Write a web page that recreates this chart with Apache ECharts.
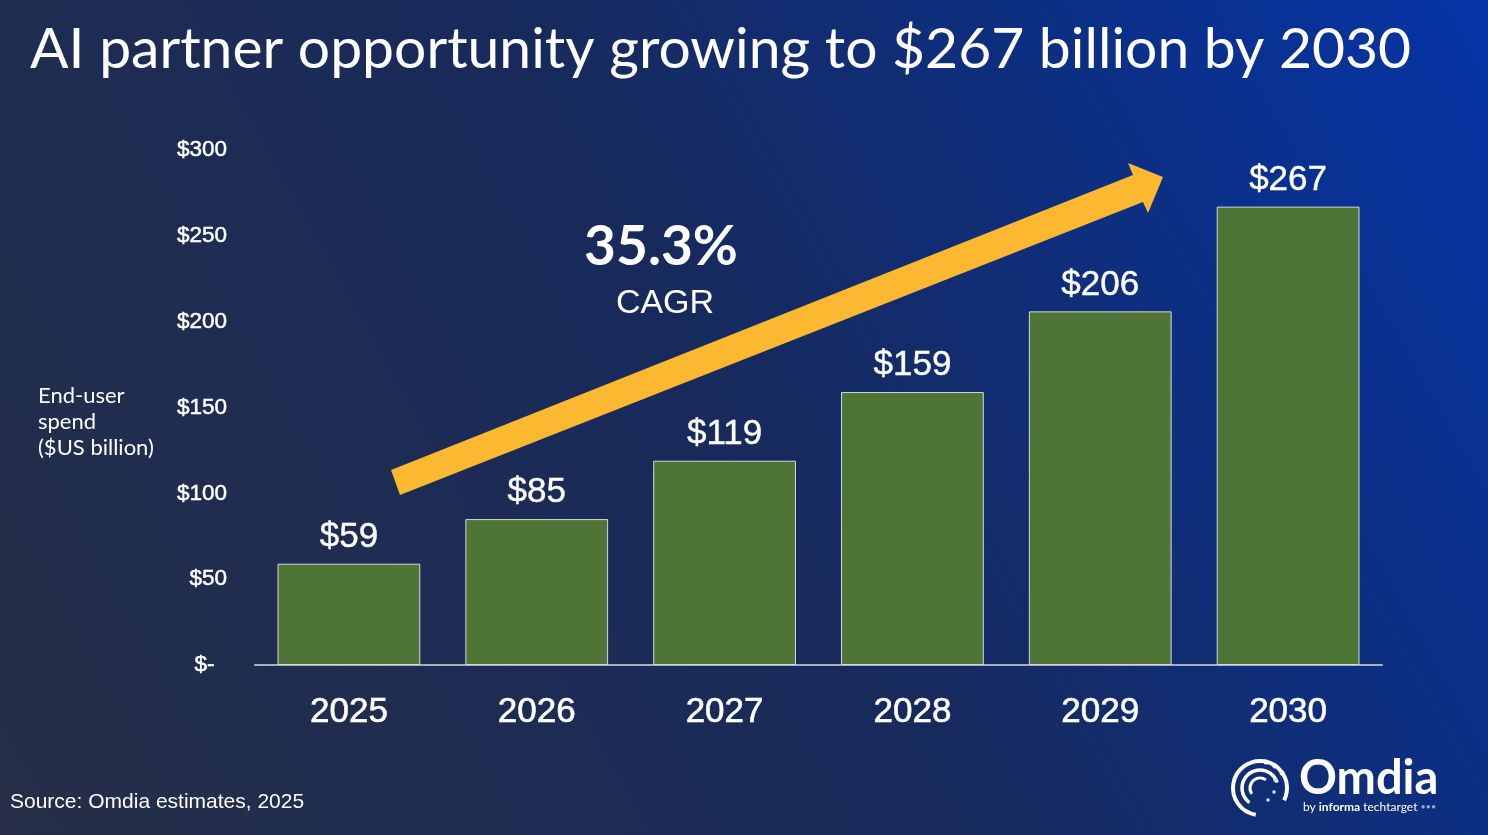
<!DOCTYPE html>
<html>
<head>
<meta charset="utf-8">
<title>AI partner opportunity</title>
<script src="https://cdn.jsdelivr.net/npm/echarts@6/dist/echarts.min.js"></script>
<style>
  html, body { margin: 0; padding: 0; }
  #main { width: 1488px; height: 835px; }
</style>
</head>
<body>
<div id="main"></div>
<script>
// chart data
const years = ['2025', '2026', '2027', '2028', '2029', '2030']
const spend = [59, 85, 119, 159, 206, 267]
const yTicks = [0, 50, 100, 150, 200, 250, 300]

const titleText = 'AI partner opportunity growing to $267 billion by 2030'
const yName = ['End-user', 'spend', '($US billion)']
const cagrValue = '35.3%'
const sourceText = 'Source: Omdia estimates, 2025'

const chart = echarts.init(document.getElementById('main'))

const option = {
  backgroundColor: {
    type: 'linear',
    x: 0, y: 1, x2: 1, y2: 0,
    colorStops: [
      { offset: 0, color: '#262f47' },
      { offset: 0.5, color: '#172a5c' },
      { offset: 1, color: '#0434a6' }
    ]
  },
  animation: false,
  grid: { left: 255, right: 106, top: 150, bottom: 170 },
  xAxis: {
    type: 'category',
    data: years,
    axisTick: { show: false },
    axisLine: { lineStyle: { color: '#a7afbf', width: 2 } },
    axisLabel: {
      color: '#ffffff',
      fontFamily: 'Liberation Sans',
      fontSize: 35,
      textBorderColor: '#ffffff',
      textBorderWidth: 0.6,
      margin: 30
    }
  },
  yAxis: {
    type: 'value',
    min: yTicks[0],
    max: yTicks[yTicks.length - 1],
    interval: 50,
    splitLine: { show: false },
    axisLine: { show: false },
    axisLabel: {
      color: '#ffffff',
      fontFamily: 'Liberation Sans',
      fontSize: 22.5,
      textBorderColor: '#ffffff',
      textBorderWidth: 0.5,
      margin: 28,
      formatter: v => v === 0 ? '$-  ' : '$' + v
    }
  },
  series: [{
    type: 'bar',
    data: spend,
    barCategoryGap: '24%',
    itemStyle: { color: '#4e7535', borderColor: '#d6d9dc', borderWidth: 1 },
    label: {
      show: true,
      position: 'top',
      distance: 9,
      color: '#ffffff',
      fontFamily: 'Liberation Sans',
      fontSize: 35,
      textBorderColor: '#ffffff',
      textBorderWidth: 0.4,
      formatter: p => '$' + p.value
    }
  }],
  graphic: [
    {
      type: 'text', left: 30, top: 21,
      style: { text: titleText, fill: '#ffffff', font: '57px Lato' }
    },
    {
      type: 'text', left: 38, top: 383,
      style: { text: yName.join('\n'), fill: '#ffffff', font: '22px Lato', lineHeight: 26 }
    },
    {
      // growth arrow
      type: 'polygon',
      shape: {
        points: [[391, 470], [1133, 175], [1128, 163], [1163, 177], [1148, 213], [1143, 202], [400, 495]]
      },
      style: { fill: '#fcb830' }
    },
    {
      type: 'text', x: 661, y: 247,
      style: { text: cagrValue, fill: '#ffffff', font: 'bold 55px Lato', align: 'center', verticalAlign: 'middle' }
    },
    {
      type: 'text', x: 665, y: 304,
      style: { text: 'CAGR', fill: '#ffffff', font: '34px Liberation Sans', align: 'center', verticalAlign: 'middle' }
    },
    {
      type: 'text', left: 10, top: 792,
      style: { text: sourceText, fill: '#ffffff', font: '21px Liberation Sans' }
    },
    // Omdia logo
    {
      type: 'group', x: 1260, y: 788,
      children: [
        { type: 'arc', shape: { cx: 0, cy: 0, r: 27, startAngle: Math.PI * 0.55, endAngle: Math.PI * 2.15 },
          style: { stroke: '#ffffff', lineWidth: 4, fill: null } },
        { type: 'arc', shape: { cx: 0, cy: 0, r: 18, startAngle: Math.PI * 0.7, endAngle: Math.PI * 1.9 },
          style: { stroke: '#ffffff', lineWidth: 3.5, fill: null } },
        { type: 'arc', shape: { cx: 0, cy: 0, r: 10, startAngle: Math.PI * 0.8, endAngle: Math.PI * 1.7 },
          style: { stroke: '#ffffff', lineWidth: 3, fill: null } },
        { type: 'circle', shape: { cx: 6, cy: -26, r: 2.5 }, style: { fill: '#ffffff' } },
        { type: 'circle', shape: { cx: 15, cy: -22, r: 2.5 }, style: { fill: '#ffffff' } },
        { type: 'circle', shape: { cx: 22, cy: -15, r: 2.5 }, style: { fill: '#ffffff' } },
        { type: 'circle', shape: { cx: 15, cy: -8, r: 1.8 }, style: { fill: '#d6dcf0' } },
        { type: 'circle', shape: { cx: 14, cy: 4, r: 1.8 }, style: { fill: '#d6dcf0' } },
        { type: 'circle', shape: { cx: 8, cy: 12, r: 1.8 }, style: { fill: '#d6dcf0' } }
      ]
    },
    {
      type: 'text', left: 1299, top: 755,
      style: { text: 'Omdia', fill: '#ffffff', font: 'bold 47px Lato' }
    },
    {
      type: 'text', left: 1303, top: 801,
      style: {
        text: '{a|by }{b|informa}{a| techtarget }{c|•••}',
        rich: {
          a: { fill: '#ffffff', font: '12px Lato' },
          b: { fill: '#ffffff', font: 'bold 12px Lato' },
          c: { fill: '#9aa6c8', font: '9px Lato' }
        }
      }
    }
  ]
}

chart.setOption(option)
</script>
</body>
</html>
